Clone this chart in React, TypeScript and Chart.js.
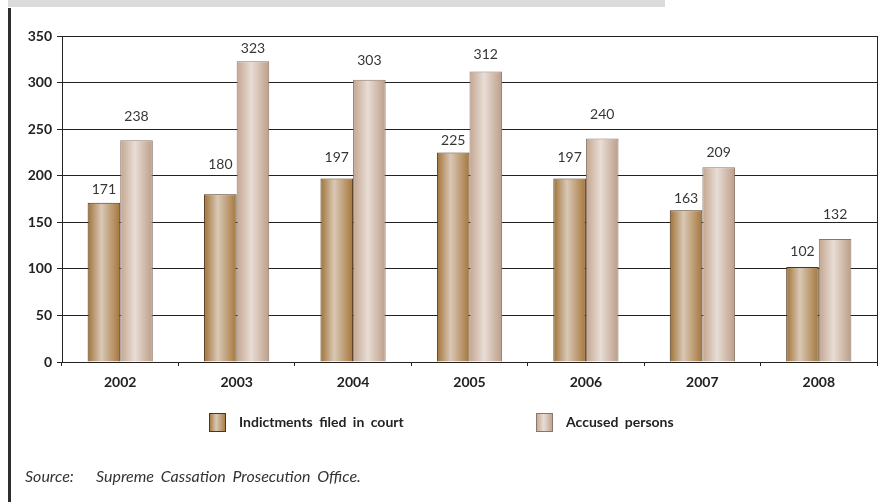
import React, { useEffect, useRef } from 'react';
import { Chart, registerables } from 'chart.js';

Chart.register(...registerables);

// ---- data ----
const years = ['2002', '2003', '2004', '2005', '2006', '2007', '2008'];
const indictments = [171, 180, 197, 225, 197, 163, 102];
const accused = [238, 323, 303, 312, 240, 209, 132];
const seriesNames = ['Indictments filed in court', 'Accused persons'];
const yMin = 0;
const yMax = 350;
const yStep = 50;
const sourceLabel = 'Source:';
const sourceText = 'Supreme Cassation Prosecution Office.';

// ---- styles ----
const W = 882;
const H = 502;
const CAT_PCT = 0.56;
const FONT = 'Lato, "Open Sans", sans-serif';
const INK = '#222222';
const gradStops: [number, string][][] = [
  [[0, '#a07236'], [0.42, '#d9c8b6'], [1, '#a5763a']],
  [[0, '#c3a58f'], [0.45, '#e8ddd5'], [1, '#bc9d87']],
];
const borderCols = ['#4e3519', '#8a776b'];
// gap (px) between the top of each bar and the centre of its value label
const labelLift = [
  [13, 30, 21, 12, 21, 12, 16],
  [24, 13, 19, 17, 24, 15, 25],
];

function makeGrad(ctx: CanvasRenderingContext2D, x0: number, x1: number, i: number) {
  const g = ctx.createLinearGradient(x0, 0, x1, 0);
  gradStops[i].forEach(([o, c]) => g.addColorStop(o, c));
  return g;
}

function barFill(context: any) {
  const chart = context.chart;
  const xs = chart.scales?.x;
  const di = context.datasetIndex ?? 0;
  if (!xs || !chart.chartArea || context.dataIndex === undefined) return gradStops[di][1][1];
  const center = xs.getPixelForValue(context.dataIndex);
  const catW = xs.width / years.length;
  const bw = (catW * CAT_PCT) / 2;
  const left = di === 0 ? center - bw : center;
  return makeGrad(chart.ctx, left, left + bw, di);
}

const framePlugin = {
  id: 'frame',
  beforeDraw(chart: any) {
    const ctx = chart.ctx as CanvasRenderingContext2D;
    ctx.save();
    ctx.fillStyle = '#ffffff';
    ctx.fillRect(0, 0, W, H);
    ctx.fillStyle = '#dcdcdc';
    ctx.fillRect(8, 0, 657, 7);
    ctx.fillStyle = '#2e2e2e';
    ctx.fillRect(8, 8, 3, H - 8);
    ctx.restore();
  },
  beforeDatasetsDraw(chart: any) {
    const ctx = chart.ctx as CanvasRenderingContext2D;
    const a = chart.chartArea;
    ctx.save();
    ctx.strokeStyle = INK;
    ctx.lineWidth = 1;
    ctx.beginPath();
    const x = Math.round(a.right) + 0.5;
    ctx.moveTo(x, a.top);
    ctx.lineTo(x, a.bottom);
    ctx.stroke();
    ctx.restore();
  },
};

const valueLabelPlugin = {
  id: 'valueLabels',
  afterDatasetsDraw(chart: any) {
    const ctx = chart.ctx as CanvasRenderingContext2D;
    ctx.save();
    ctx.font = `14px ${FONT}`;
    ctx.fillStyle = '#363636';
    ctx.textAlign = 'center';
    ctx.textBaseline = 'middle';
    chart.data.datasets.forEach((ds: any, di: number) => {
      const meta = chart.getDatasetMeta(di);
      meta.data.forEach((el: any, i: number) => {
        ctx.fillText(String(ds.data[i]), el.x, el.y - labelLift[di][i]);
      });
    });
    ctx.restore();
  },
};

const legendPlugin = {
  id: 'customLegend',
  afterDraw(chart: any) {
    const ctx = chart.ctx as CanvasRenderingContext2D;
    const boxX = [209, 536];
    const boxY = 413;
    const boxW = 17;
    const boxH = 19;
    ctx.save();
    seriesNames.forEach((name, i) => {
      const x = boxX[i];
      ctx.fillStyle = makeGrad(ctx, x, x + boxW, i);
      ctx.fillRect(x, boxY, boxW, boxH);
      ctx.strokeStyle = borderCols[i];
      ctx.lineWidth = 1;
      ctx.strokeRect(x + 0.5, boxY + 0.5, boxW - 1, boxH - 1);
      ctx.fillStyle = INK;
      ctx.font = `bold 14px ${FONT}`;
      ctx.textAlign = 'left';
      ctx.textBaseline = 'middle';
      (ctx as any).wordSpacing = '3px';
      ctx.fillText(name, x + 30, boxY + boxH / 2);
    });
    ctx.restore();
  },
};

export default function App() {
  const canvasRef = useRef<HTMLCanvasElement | null>(null);

  useEffect(() => {
    if (!canvasRef.current) return;
    const chart = new Chart(canvasRef.current, {
      type: 'bar',
      data: {
        labels: years,
        datasets: [
          {
            label: seriesNames[0],
            data: indictments,
            backgroundColor: barFill,
            borderColor: borderCols[0],
            borderWidth: 1,
            categoryPercentage: CAT_PCT,
            barPercentage: 1,
          },
          {
            label: seriesNames[1],
            data: accused,
            backgroundColor: barFill,
            borderColor: borderCols[1],
            borderWidth: 1,
            categoryPercentage: CAT_PCT,
            barPercentage: 1,
          },
        ],
      },
      options: {
        responsive: false,
        animation: false,
        devicePixelRatio: 1,
        layout: { padding: { top: 36, right: 5, bottom: 110, left: 0 } },
        plugins: {
          legend: { display: false },
          tooltip: { enabled: false },
        },
        scales: {
          x: {
            offset: true,
            grid: {
              offset: true,
              drawOnChartArea: false,
              drawTicks: true,
              tickLength: 4,
              color: INK,
            },
            border: { display: true, color: INK, width: 1 },
            ticks: {
              font: { family: FONT, size: 14, weight: 'bold' },
              color: INK,
              padding: 8,
            },
            afterFit(scale: any) {
              scale.height = 30;
            },
          },
          y: {
            min: yMin,
            max: yMax,
            ticks: {
              stepSize: yStep,
              font: { family: FONT, size: 14, weight: 'bold' },
              color: INK,
              padding: 5,
            },
            grid: {
              color: INK,
              lineWidth: 1,
              tickLength: 5,
              drawTicks: true,
            },
            border: { display: true, color: INK, width: 1 },
            afterFit(scale: any) {
              scale.width = 62;
            },
          },
        },
      },
      plugins: [framePlugin, valueLabelPlugin, legendPlugin],
    } as any);
    return () => chart.destroy();
  }, []);

  const srcStyle: React.CSSProperties = {
    position: 'absolute',
    top: 466,
    fontFamily: FONT,
    fontStyle: 'italic',
    fontSize: 16,
    lineHeight: '19px',
    color: '#333333',
    whiteSpace: 'nowrap',
    wordSpacing: '3px',
  };

  return (
    <div style={{ position: 'fixed', left: 0, top: 0, width: W, height: H, background: '#fff' }}>
      <canvas ref={canvasRef} width={W} height={H} style={{ display: 'block', width: W, height: H }} />
      <span style={{ ...srcStyle, left: 25 }}>{sourceLabel}</span>
      <span style={{ ...srcStyle, left: 96 }}>{sourceText}</span>
    </div>
  );
}
